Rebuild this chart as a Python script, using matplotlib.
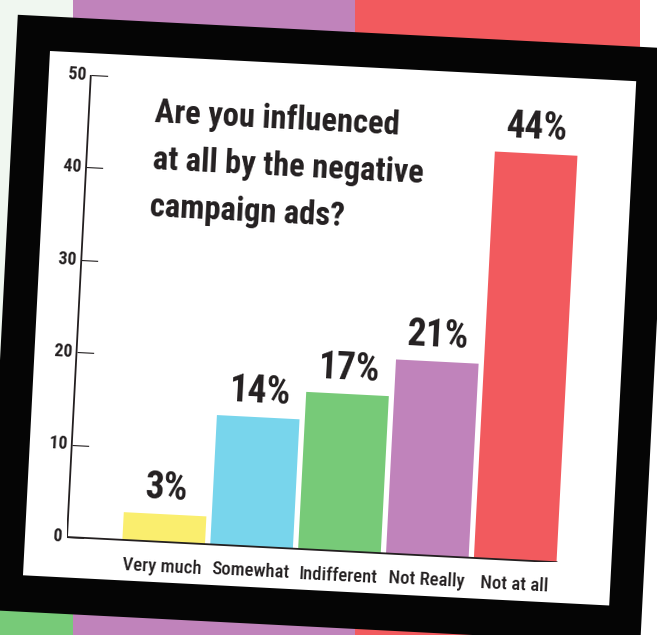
import matplotlib
matplotlib.use("Agg")
import matplotlib.pyplot as plt
from matplotlib import font_manager
from matplotlib.patches import Rectangle
from matplotlib.transforms import Affine2D
from mpl_toolkits.axisartist import floating_axes
from mpl_toolkits.axisartist.grid_finder import FixedLocator

# --------------------------------------------------
# data
# --------------------------------------------------
categories = ["Very much", "Somewhat", "Indifferent", "Not Really", "Not at all"]
shares = [3, 14, 17, 21, 44]
bar_colors = ["#faee6e", "#78d5ec", "#77ca78", "#c083bb", "#f25a5e"]
y_ticks = [0, 10, 20, 30, 40, 50]
title = "Are you influenced\nat all by the negative\ncampaign ads?"

INK = "#231f20"

# pick a condensed face if one is around
available = {f.name for f in font_manager.fontManager.ttflist}
FONT = next((n for n in ["Roboto Condensed", "Liberation Sans Narrow",
                         "Open Sans Condensed", "DejaVu Sans"] if n in available),
            "DejaVu Sans")

# --------------------------------------------------
# layout (pixels)
# --------------------------------------------------
W, H, DPI = 657, 635, 100
TILT = 2.95            # the whole card is turned clockwise by this
ORIGIN = (67, 537)     # where the 0 of the value axis sits, y down
PX_PER_BAR = 88
PX_PER_PCT = 9.25
X0, X1 = -1.10, 4.47
Y0, Y1 = 0, 50

fig = plt.figure(figsize=(W / DPI, H / DPI), dpi=DPI)

# background stripes + card frame
bg = fig.add_axes([0, 0, 1, 1])
bg.set_xlim(0, W)
bg.set_ylim(H, 0)
bg.axis("off")
bg.set_zorder(-1)

stripes = [
    (0, 0, 73, H, "#f0f7f0"),
    (0, 430, 73, H - 430, "#77ca78"),
    (73, 0, 282, H, "#c083bb"),
    (355, 0, 285, H, "#f25a5e"),
]
for x, y, w, h, c in stripes:
    bg.add_patch(Rectangle((x, y), w, h, color=c, lw=0))

card = Affine2D().rotate_deg(TILT).translate(*ORIGIN) + bg.transData
bg.add_patch(Rectangle((-76, -519), 654, 596, color="#050505", lw=0, transform=card))
bg.add_patch(Rectangle((-42, -484.5), 587, 525, color="white", lw=0, transform=card))

# --------------------------------------------------
# tilted chart axes
# --------------------------------------------------
tr = Affine2D().translate(-X0, 0).scale(PX_PER_BAR, PX_PER_PCT).rotate_deg(-TILT)
grid_helper = floating_axes.GridHelperCurveLinear(
    tr,
    extremes=(X0, X1, Y0, Y1),
    grid_locator1=FixedLocator(list(range(len(categories)))),
    grid_locator2=FixedLocator(y_ticks),
)

corners = tr.transform([[X0, Y0], [X1, Y0], [X0, Y1], [X1, Y1]])
xmin, ymin = corners.min(axis=0)
xmax, ymax = corners.max(axis=0)
ox, oy = ORIGIN[0], H - ORIGIN[1]
rect = [(ox + xmin) / W, (oy + ymin) / H, (xmax - xmin) / W, (ymax - ymin) / H]

ax = fig.add_axes(rect, axes_class=floating_axes.FloatingAxes, grid_helper=grid_helper)
ax.set_xlim(xmin, xmax)
ax.set_ylim(ymin, ymax)
ax.patch.set_facecolor("none")

for side in ["top", "right"]:
    ax.axis[side].set_visible(False)

left = ax.axis["left"]
left.line.set_color(INK)
left.line.set_linewidth(1.3)
left.major_ticks.set_tick_out(False)
left.major_ticks.set_ticksize(12)
left.major_ticks.set_color(INK)
left.major_ticks.set_linewidth(1.3)
left.major_ticklabels.set_fontsize(13)
left.major_ticklabels.set_family(FONT)
left.major_ticklabels.set_fontweight("bold")
left.major_ticklabels.set_color(INK)
left.major_ticklabels.set_pad(3)

bottom = ax.axis["bottom"]
bottom.line.set_color(INK)
bottom.line.set_linewidth(1.3)
bottom.major_ticks.set_visible(False)
bottom.major_ticklabels.set_visible(False)

aux = ax.get_aux_axes(tr)
xs = list(range(len(categories)))
aux.bar(xs, shares, width=0.94, color=bar_colors, lw=0)

for x, v, cat in zip(xs, shares, categories):
    aux.text(x, v + 1.6, f"{v}%", ha="center", va="baseline",
             rotation=-TILT, rotation_mode="anchor",
             fontsize=27, fontweight="bold", family=FONT, color=INK)
    aux.text(x, -3.2, cat, ha="center", va="baseline",
             rotation=-TILT, rotation_mode="anchor",
             fontsize=13.5, fontweight="medium", family=FONT, color=INK)

# multi-line title sitting under the 50 line
aux.text(-0.35, 36.7, title, ha="left", va="baseline",
         rotation=-TILT, rotation_mode="anchor", linespacing=1.6,
         fontsize=23.5, fontweight="bold", family=FONT, color=INK)

fig.savefig("out.png", dpi=DPI)
